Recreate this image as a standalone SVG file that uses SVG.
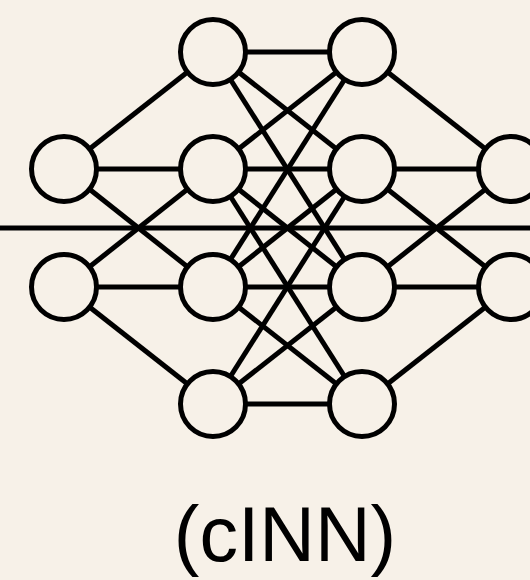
<svg xmlns="http://www.w3.org/2000/svg" width="530" height="580" viewBox="0 0 530 580">
<style>
.e{stroke:#000;stroke-width:5;fill:none}
.n{fill:#F7F1E8;stroke:#000;stroke-width:5}
.t{font-family:"Liberation Sans",Arial,sans-serif;font-size:77px;fill:#000}
</style>
<rect width="530" height="580" fill="#F7F1E8"/>
<g id="connectors" class="e">
<line x1="0" y1="228" x2="530" y2="228"/>
<line x1="64" y1="169" x2="213" y2="52"/>
<line x1="64" y1="169" x2="213" y2="169"/>
<line x1="64" y1="169" x2="213" y2="287"/>
<line x1="64" y1="287" x2="213" y2="169"/>
<line x1="64" y1="287" x2="213" y2="287"/>
<line x1="64" y1="287" x2="213" y2="404"/>
<line x1="213" y1="52" x2="362" y2="52"/>
<line x1="213" y1="52" x2="362" y2="169"/>
<line x1="213" y1="52" x2="362" y2="287"/>
<line x1="213" y1="169" x2="362" y2="52"/>
<line x1="213" y1="169" x2="362" y2="169"/>
<line x1="213" y1="169" x2="362" y2="287"/>
<line x1="213" y1="169" x2="362" y2="404"/>
<line x1="213" y1="287" x2="362" y2="52"/>
<line x1="213" y1="287" x2="362" y2="169"/>
<line x1="213" y1="287" x2="362" y2="287"/>
<line x1="213" y1="287" x2="362" y2="404"/>
<line x1="213" y1="404" x2="362" y2="169"/>
<line x1="213" y1="404" x2="362" y2="287"/>
<line x1="213" y1="404" x2="362" y2="404"/>
<line x1="362" y1="52" x2="511" y2="169"/>
<line x1="362" y1="169" x2="511" y2="169"/>
<line x1="362" y1="169" x2="511" y2="287"/>
<line x1="362" y1="287" x2="511" y2="169"/>
<line x1="362" y1="287" x2="511" y2="287"/>
<line x1="362" y1="404" x2="511" y2="287"/>
</g>
<g id="in0"><circle class="n" cx="64" cy="169" r="32.5"/></g>
<g id="in1"><circle class="n" cx="64" cy="287" r="32.5"/></g>
<g id="h1_0"><circle class="n" cx="213" cy="52" r="32.5"/></g>
<g id="h1_1"><circle class="n" cx="213" cy="169" r="32.5"/></g>
<g id="h1_2"><circle class="n" cx="213" cy="287" r="32.5"/></g>
<g id="h1_3"><circle class="n" cx="213" cy="404" r="32.5"/></g>
<g id="h2_0"><circle class="n" cx="362" cy="52" r="32.5"/></g>
<g id="h2_1"><circle class="n" cx="362" cy="169" r="32.5"/></g>
<g id="h2_2"><circle class="n" cx="362" cy="287" r="32.5"/></g>
<g id="h2_3"><circle class="n" cx="362" cy="404" r="32.5"/></g>
<g id="out0"><circle class="n" cx="511" cy="169" r="32.5"/></g>
<g id="out1"><circle class="n" cx="511" cy="287" r="32.5"/></g>
<g id="label"><text class="t" x="285" y="561" text-anchor="middle">(cINN)</text></g>
</svg>
